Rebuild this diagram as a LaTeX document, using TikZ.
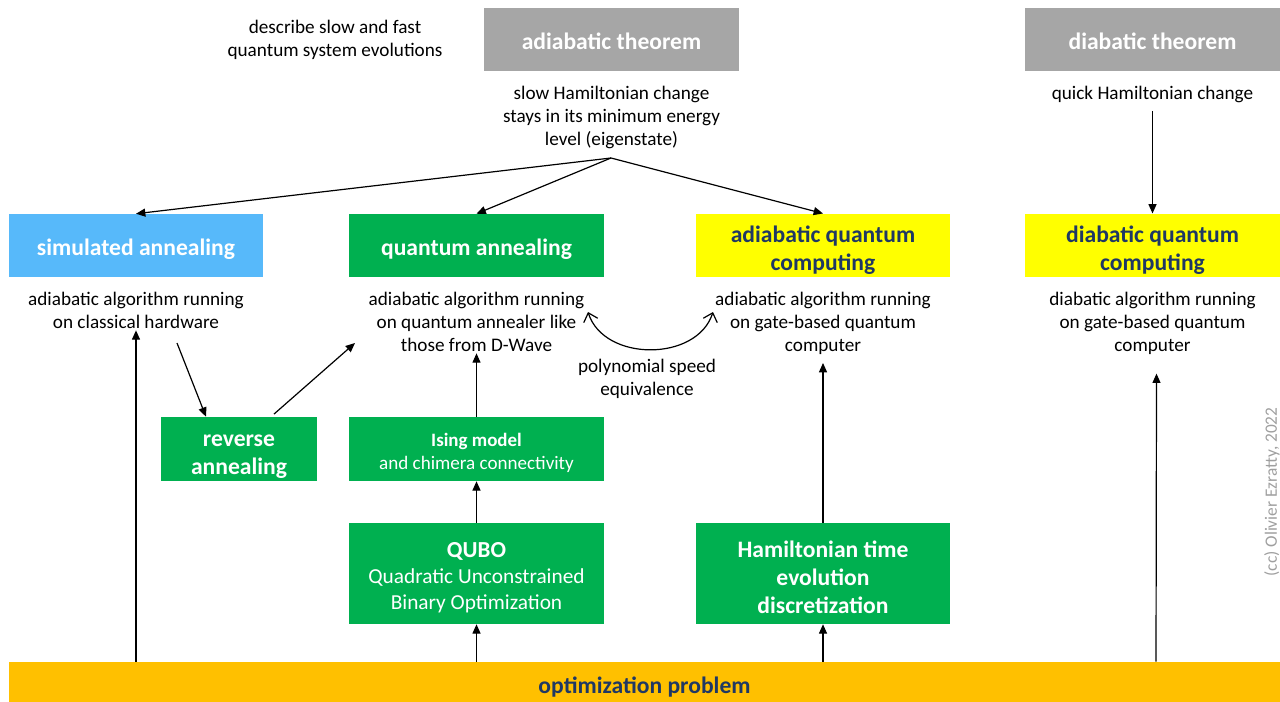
\documentclass[tikz,border=0pt]{standalone}
\usepackage{fontspec}
\setmainfont{Carlito}
\usetikzlibrary{arrows.meta,positioning}
\definecolor{thgray}{HTML}{A6A6A6}
\definecolor{sablue}{HTML}{57B9FA}
\definecolor{qgreen}{HTML}{00B050}
\definecolor{qyellow}{HTML}{FFFF00}
\definecolor{optorange}{HTML}{FFC000}
\definecolor{navy}{HTML}{1F3864}
\newcommand\boxstrut[1][0pt]{\rule[-0.269em]{0pt}{\dimexpr1.221em+#1\relax}}
\tikzset{
  headbox/.style={
    inner sep=0pt, align=center, text=white,
    minimum width=191.25pt, minimum height=47.25pt,
    font=\fontsize{17.7}{21}\selectfont\bfseries,
    textdown=3pt, execute at end node=\boxstrut},
  textdown/.style={execute at begin node={\boxstrut[#1]}},
  headbox_th/.style={headbox, fill=thgray},
  headbox_sa/.style={headbox, fill=sablue},
  headbox_q/.style={headbox, fill=qgreen},
  headbox_y/.style={headbox, fill=qyellow, text=navy},
  descnote/.style={
    inner sep=0pt, align=center, anchor=north,
    font=\fontsize{14.4}{17.25}\selectfont},
  uparrow/.style={
    -{Triangle[length=7pt,width=6pt]}, line width=0.9pt},
  barbarrow/.style={
    {Straight Barb[length=6pt,width=11pt]}-{Straight Barb[length=6pt,width=11pt]},
    line width=0.9pt},
}

\begin{document}
\begin{tikzpicture}[x=0.75pt, y=-0.75pt]
  \useasboundingbox (0,0) rectangle (1280,702);

  % theorems
  \node[descnote, anchor=center] (intro) at (335,40)
    {describe slow and fast\\quantum system evolutions};
  \node[headbox_th] (adth) at (611.5,39.5) {adiabatic theorem};
  \node[headbox_th] (dith) at (1152.5,39.5) {diabatic theorem};
  \node[descnote] (adthdesc) at (611.5,86)
    {slow Hamiltonian change\\stays in its minimum energy\\level (eigenstate)};
  \node[descnote] (dithdesc) at (1152.5,86) {quick Hamiltonian change};

  % algorithms
  \node[headbox_sa, minimum width=190.5pt] (sa) at (136,245.5) {simulated annealing};
  \node[headbox_q] (qa) at (476.5,245.5) {quantum annealing};
  \node[headbox_y, minimum width=190.5pt, textdown=26pt] (aqc) at (823,245.5) {adiabatic quantum\\computing};
  \node[headbox_y, textdown=26pt] (dqc) at (1152.5,245.5) {diabatic quantum\\computing};

  \node[descnote] (sadesc) at (136,292)
    {adiabatic algorithm running\\on classical hardware};
  \node[descnote] (qadesc) at (476.5,292)
    {adiabatic algorithm running\\on quantum annealer like\\those from D-Wave};
  \node[descnote] (aqcdesc) at (823,292)
    {adiabatic algorithm running\\on gate-based quantum\\computer};
  \node[descnote] (dqcdesc) at (1152.5,292)
    {diabatic algorithm running\\on gate-based quantum\\computer};

  % intermediate steps
  \node[headbox_q, minimum width=117pt, minimum height=48pt, textdown=26pt] (rev) at (239,449)
    {reverse\\annealing};
  \node[headbox_q, minimum height=48pt, textdown=20.6pt,
        font=\fontsize{14.3}{17.25}\selectfont] (ising) at (476.5,449)
    {{\fontsize{14.2}{17.25}\selectfont\bfseries Ising model}\\and chimera connectivity};
  \node[headbox_q, minimum height=75.75pt, textdown=43pt,
        font=\fontsize{16}{19.5}\selectfont] (qubo) at (476.5,573.5)
    {{\fontsize{17.2}{19.5}\selectfont\bfseries QUBO}\\Quadratic Unconstrained\\Binary Optimization};
  \node[headbox_q, minimum width=190.5pt, minimum height=75.75pt, textdown=48pt] (ham) at (823,573.5)
    {Hamiltonian time\\evolution\\discretization};

  \node[headbox, fill=optorange, text=navy, minimum width=953.25pt, minimum height=31.5pt,
        textdown=0pt] (opt) at (644.5,683) {optimization problem};

  \node[rotate=90, text=gray!75, font=\fontsize{13}{15}\selectfont] (cc) at (1272,492)
    {(cc) Olivier Ezratty, 2022};

  % connectors
  \coordinate (fork) at (611,158);
  \draw[uparrow] (fork) -- (sa.north);
  \draw[uparrow] (fork) -- (qa.north);
  \draw[uparrow] (fork) -- (aqc.north);
  \coordinate (quick) at (1152.5,111);
  \draw[uparrow] (quick) -- (dqc.north);

  \draw[uparrow] (opt.north -| sadesc.south) -- ([yshift=-1pt]sadesc.south);
  \draw[uparrow] (opt.north -| qubo.south) -- (qubo.south);
  \draw[uparrow] (opt.north -| ham.south) -- (ham.south);
  \draw[uparrow] (opt.north -| 1156,0) -- ([xshift=3pt,yshift=-14pt]dqcdesc.south);
  \draw[uparrow] (qubo.north) -- (ising.south);
  \draw[uparrow] (ising.north) -- ([yshift=-1pt]qadesc.south);
  \draw[uparrow] (ham.north) -- ([yshift=-6pt]aqcdesc.south);

  \coordinate (saout) at (177,343);
  \coordinate (qain) at (355,343);
  \draw[uparrow] (saout) -- (rev.north -| 206,0);
  \draw[uparrow] ([yshift=2pt]rev.north -| 274,0) -- (qain);

  \coordinate (qaeq) at (588,312);
  \coordinate (aqceq) at (713,312);
  \draw[barbarrow] (qaeq) .. controls (604,362) and (697,362) .. (aqceq);
  \node[descnote] (eqnote) at (647,359) {polynomial speed\\equivalence};
\end{tikzpicture}
\end{document}
